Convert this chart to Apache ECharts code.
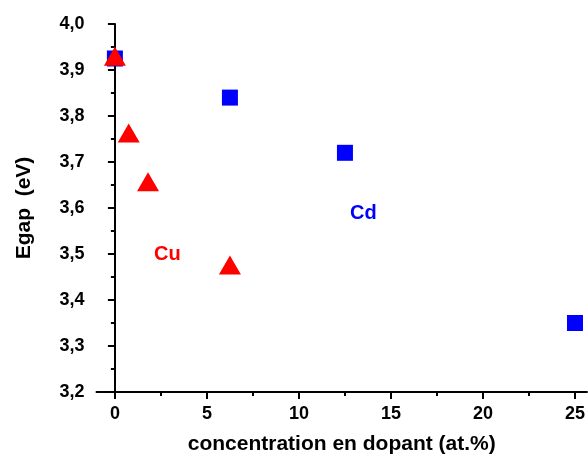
<!DOCTYPE html>
<html>
<head>
<meta charset="utf-8">
<script src="https://cdn.jsdelivr.net/npm/echarts@6/dist/echarts.min.js"></script>
<style>
  html, body { margin: 0; padding: 0; background: #fff; }
  #chart { width: 588px; height: 460px; }
</style>
</head>
<body>
<div id="chart"></div>
<script>
// Cd doped (blue squares)
var cdConc = [0, 6.25, 12.5, 25];
var cdGap = [3.925, 3.84, 3.72, 3.35];
// Cu doped (red triangles)
var cuConc = [0, 0.75, 1.8, 6.25];
var cuGap = [3.93, 3.763, 3.657, 3.476];
// x tick labels
var xMajor = [0, 5, 10, 15, 20, 25];
var xMinor = [2.5, 7.5, 12.5, 17.5, 22.5];
// in-plot labels
var labelText = ['Cd', 'Cu'];
var labelX = [13.5, 2.85];
var labelY = [3.588, 3.5];
var labelColor = ['#0000ff', '#ff0000'];

function pairs(xs, ys) {
  var out = [];
  for (var i = 0; i < xs.length; i++) out.push([xs[i], ys[i]]);
  return out;
}

var font = 'Liberation Sans, Arial, sans-serif';
var chart = echarts.init(document.getElementById('chart'));

var labelData = labelText.map(function (t, i) {
  return {
    value: [labelX[i], labelY[i]],
    label: {
      show: true, position: 'inside', formatter: t, opacity: 1,
      fontFamily: font, fontWeight: 'bold', fontSize: 20, color: labelColor[i]
    }
  };
});

var option = {
  animation: false,
  backgroundColor: '#fff',
  grid: { left: 96.5, top: 24, right: 0, height: 368.5 },
  xAxis: [{
    type: 'value', min: -1, max: 25.65,
    name: 'concentration en dopant (at.%)',
    nameLocation: 'middle', nameGap: 42,
    nameTextStyle: { fontFamily: font, fontWeight: 'bold', fontSize: 21, color: '#000' },
    axisLine: { lineStyle: { color: '#000', width: 2 } },
    axisTick: { show: true, length: 7, lineStyle: { color: '#000', width: 2 }, customValues: xMajor },
    axisLabel: { customValues: xMajor, fontFamily: font, fontWeight: 'bold', fontSize: 18, color: '#000', margin: 13 },
    splitLine: { show: false }
  }, {
    type: 'value', min: -1, max: 25.65, position: 'bottom',
    axisLine: { show: false },
    axisTick: { show: true, length: 4, lineStyle: { color: '#000', width: 2 }, customValues: xMinor },
    axisLabel: { show: false },
    splitLine: { show: false }
  }],
  yAxis: {
    type: 'value', min: 3.2, max: 4.0, interval: 0.1,
    name: 'Egap  (eV)',
    nameLocation: 'middle', nameGap: 62,
    nameTextStyle: { fontFamily: font, fontWeight: 'bold', fontSize: 21, color: '#000' },
    axisLine: { show: true, lineStyle: { color: '#000', width: 2 } },
    axisTick: { show: true, length: 7, lineStyle: { color: '#000', width: 2 } },
    minorTick: { show: true, splitNumber: 2, length: 4, lineStyle: { color: '#000', width: 2 } },
    axisLabel: {
      fontFamily: font, fontWeight: 'bold', fontSize: 18, color: '#000', margin: 12,
      formatter: function (v) { return v.toFixed(1).replace('.', ','); }
    },
    splitLine: { show: false }
  },
  series: [{
    name: 'Cd', type: 'scatter',
    data: pairs(cdConc, cdGap),
    symbol: 'rect', symbolSize: 16,
    itemStyle: { color: '#0000ff', opacity: 1 }
  }, {
    name: 'Cu', type: 'scatter',
    data: pairs(cuConc, cuGap),
    symbol: 'triangle', symbolSize: [22, 19],
    itemStyle: { color: '#ff0000', opacity: 1 }
  }, {
    name: 'labels', type: 'scatter',
    symbol: 'circle', symbolSize: 1,
    itemStyle: { color: '#ffffff', opacity: 1 },
    data: labelData
  }]
};

chart.setOption(option);
</script>
</body>
</html>
